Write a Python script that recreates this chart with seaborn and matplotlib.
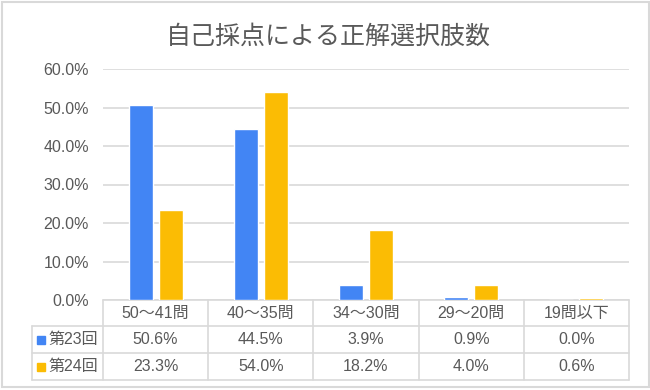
import matplotlib
matplotlib.use("Agg")
import matplotlib.pyplot as plt
import matplotlib.transforms as mtransforms
from matplotlib.patches import Rectangle
import pandas as pd
import seaborn as sns

# --- data ---
categories = ["50～41問", "40～35問", "34～30問", "29～20問", "19問以下"]
series_names = ["第23回", "第24回"]
round23 = [50.6, 44.5, 3.9, 0.9, 0.0]
round24 = [23.3, 54.0, 18.2, 4.0, 0.6]
y_ticks = [0, 10, 20, 30, 40, 50, 60]

colors = ["#4285F4", "#FBBC04"]
text_color = "#595959"
line_color = "#d9d9d9"

sns.set_theme(style="white")
plt.rcParams["font.family"] = ["Liberation Sans", "Noto Sans CJK JP"]

df = pd.DataFrame({
    "category": categories * 2,
    "series": [series_names[0]] * len(categories) + [series_names[1]] * len(categories),
    "value": round23 + round24,
})

W, H = 650, 390
fig = plt.figure(figsize=(W / 100, H / 100), dpi=100)
fig.patch.set_facecolor("white")

# plot area in pixels
left, right, top, bottom = 103, 629, 69, 300
ax = fig.add_axes([left / W, 1 - bottom / H, (right - left) / W, (bottom - top) / H])


def ax_x(px):
    return (px - left) / (right - left)


def ax_y(py):
    return (bottom - py) / (bottom - top)


sns.barplot(data=df, x="category", y="value", hue="series", palette=colors,
            width=0.57, gap=0.2, saturation=1, errorbar=None, legend=False, ax=ax, zorder=3)

ax.set_xlim(-0.5, len(categories) - 0.5)
ax.set_ylim(0, 60)
ax.set_yticks(y_ticks)
ax.set_yticklabels([f"{v:.1f}%" for v in y_ticks])
ax.tick_params(axis="y", length=0, pad=10, labelsize=11.5, labelcolor=text_color)
ax.set_xticks([])
ax.set_xlabel("")
ax.set_ylabel("")
ax.grid(axis="y", color=line_color, lw=1.2, zorder=0)
ax.set_axisbelow(True)
for s in ax.spines.values():
    s.set_visible(False)

# --- data table under the plot ---
blend = mtransforms.blended_transform_factory(ax.transData, ax.transAxes)
rows_px = [300, 326, 353, 380]
head_left = 32
n = len(categories)
lkw = dict(color=line_color, lw=1.2, clip_on=False)

ax.plot([-0.5, n - 0.5], [ax_y(300)] * 2, transform=blend, **lkw)
for py in rows_px[1:]:
    ax.plot([ax_x(head_left), 1], [ax_y(py)] * 2, transform=ax.transAxes, **lkw)
for i in range(n + 1):
    ax.plot([i - 0.5] * 2, [ax_y(300), ax_y(380)], transform=blend, **lkw)
ax.plot([ax_x(head_left)] * 2, [ax_y(326), ax_y(380)], transform=ax.transAxes, **lkw)

tkw = dict(ha="center", va="center", fontsize=11.5, color=text_color, clip_on=False)
for i, cat in enumerate(categories):
    ax.text(i, ax_y(313), cat, transform=blend, **tkw)
for row, (name, vals, col) in enumerate(zip(series_names, [round23, round24], colors)):
    yc = (rows_px[row + 1] + rows_px[row + 2]) / 2
    for i, v in enumerate(vals):
        ax.text(i, ax_y(yc), f"{v:.1f}%", transform=blend, **tkw)
    ax.add_patch(Rectangle((ax_x(37), ax_y(yc + 4)), ax_x(45) - ax_x(37), ax_y(yc - 4) - ax_y(yc + 4),
                           transform=ax.transAxes, color=col, clip_on=False))
    ax.text(ax_x(48), ax_y(yc), name, transform=ax.transAxes, ha="left", va="center",
            fontsize=11.5, color=text_color, clip_on=False)

# title
fig.text(328 / W, 1 - 37 / H, "自己採点による正解選択肢数", ha="center", va="center",
         fontsize=18, color=text_color, family=["Noto Sans CJK JP", "DejaVu Sans"])

# outer border
fig.add_artist(Rectangle((1.5 / W, 3 / H), (W - 3) / W, (H - 4.5) / H, transform=fig.transFigure,
                         fill=False, edgecolor=line_color, lw=1.5))

fig.savefig("out.png", dpi=100)
